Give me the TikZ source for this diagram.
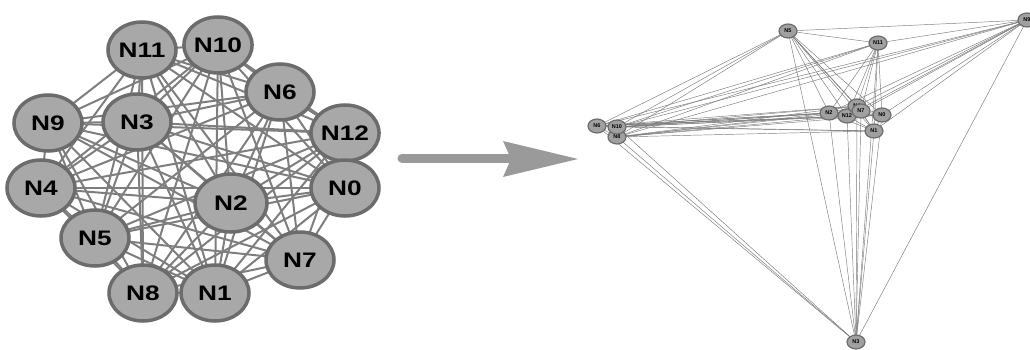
\documentclass[tikz,border=0pt]{standalone}
\usepackage{fontspec}
\setmainfont{Liberation Sans}
\usetikzlibrary{shapes.geometric,backgrounds}
\definecolor{nodefill}{HTML}{A8A8A8}
\definecolor{nodeline}{HTML}{6C6C6C}
\definecolor{edgecol}{HTML}{7E7E7E}
\definecolor{redgecol}{HTML}{7A7A7A}
\definecolor{arrowcol}{HTML}{9A9A9A}
\newcommand{\widetext}[1]{\scalebox{1.25}[1]{#1}}
\tikzset{
  bignode/.style={ellipse, minimum width=68pt, minimum height=56pt, inner sep=0pt,
    fill=nodefill, draw=nodeline, line width=3.5pt,
    font=\bfseries\fontsize{21}{21}\selectfont},
  smallnode/.style={ellipse, minimum width=18pt, minimum height=14pt, inner sep=0pt,
    fill=nodefill!95!black, draw=nodeline, line width=1.2pt,
    font=\bfseries\fontsize{5.5}{5.5}\selectfont},
  bigedge/.style={draw=edgecol, line width=2pt},
  smalledge/.style={draw=redgecol, line width=0.45pt},
}
\begin{document}
\begin{tikzpicture}[x=1pt,y=-1pt]
\useasboundingbox (0,0) rectangle (1030,350);
\clip (0,0) rectangle (1030,350);
% left graph nodes
\node[bignode] (L11) at (142,50) {\widetext{N11}};
\node[bignode] (L10) at (218,45) {\widetext{N10}};
\node[bignode] (L6) at (280,92) {\widetext{N6}};
\node[bignode] (L12) at (345,133) {\widetext{N12}};
\node[bignode] (L0) at (345,188) {\widetext{N0}};
\node[bignode, minimum width=72pt, minimum height=58pt] (L2) at (231,203) {\widetext{N2}};
\node[bignode] (L7) at (300,260) {\widetext{N7}};
\node[bignode] (L1) at (215,293) {\widetext{N1}};
\node[bignode] (L8) at (143,293) {\widetext{N8}};
\node[bignode] (L5) at (95,238) {\widetext{N5}};
\node[bignode] (L4) at (41,188) {\widetext{N4}};
\node[bignode] (L9) at (48,123) {\widetext{N9}};
\node[bignode] (L3) at (137,122) {\widetext{N3}};
\begin{pgfonlayer}{background}
\foreach \a [count=\i] in {L0,L1,L2,L3,L4,L5,L6,L7,L8,L9,L10,L11,L12}{
  \foreach \b [count=\j] in {L0,L1,L2,L3,L4,L5,L6,L7,L8,L9,L10,L11,L12}{
    \ifnum\j>\i \draw[bigedge] (\a.center) -- (\b.center); \fi
  }
}
\end{pgfonlayer}
% arrow
\coordinate (arrowstart) at (402,158);
\coordinate (arrowtip) at (578,159);
\draw[arrowcol, line width=9pt, line cap=round] (arrowstart) -- (510,158);
\fill[arrowcol] (arrowtip) -- (503,177) -- (511,159) -- (503,141) -- cycle;
% right graph nodes
\node[smallnode] (R5) at (788,31) {N5};
\node[smallnode] (R11) at (878,43) {N11};
\node[smallnode] (R9) at (1027,20) {N9};
\node[smallnode] (R2) at (829,113) {N2};
\node[smallnode] (R12) at (847,116) {N12};
\node[smallnode] (R4) at (857,106) {N4};
\node[smallnode] (R7) at (861,111) {N7};
\node[smallnode] (R0) at (882,115) {N0};
\node[smallnode] (R1) at (874,131) {N1};
\node[smallnode] (R6) at (597,126) {N6};
\node[smallnode] (R8) at (617,137) {N8};
\node[smallnode] (R10) at (617,127) {N10};
\node[smallnode] (R3) at (856,342) {N3};
\begin{pgfonlayer}{background}
\foreach \a [count=\i] in {R0,R1,R2,R3,R4,R5,R6,R7,R8,R9,R10,R11,R12}{
  \foreach \b [count=\j] in {R0,R1,R2,R3,R4,R5,R6,R7,R8,R9,R10,R11,R12}{
    \ifnum\j>\i \draw[smalledge] (\a.center) -- (\b.center); \fi
  }
}
\end{pgfonlayer}
\end{tikzpicture}
\end{document}
